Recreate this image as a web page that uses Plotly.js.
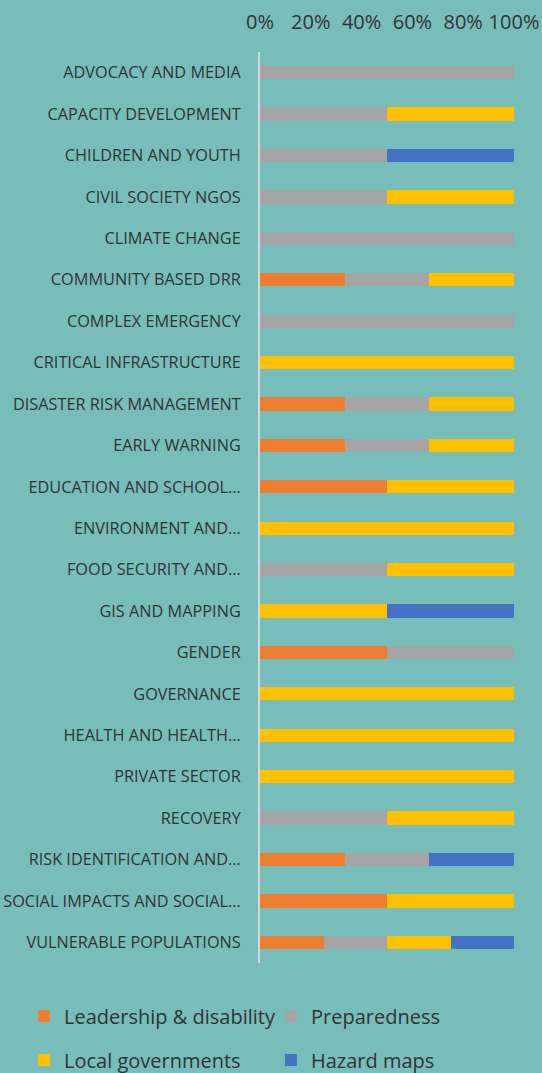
<!DOCTYPE html>
<html><head><meta charset="utf-8">
<script src="https://cdn.plot.ly/plotly-3.0.1.min.js"></script>
<style>html,body{margin:0;padding:0;background:#77bdba;}#chart{width:542px;height:1073px;}</style>
</head><body><div id="chart"></div>
<script>
const categories = [
  "ADVOCACY AND MEDIA","CAPACITY DEVELOPMENT","CHILDREN AND YOUTH","CIVIL SOCIETY NGOS",
  "CLIMATE CHANGE","COMMUNITY BASED DRR","COMPLEX EMERGENCY","CRITICAL INFRASTRUCTURE",
  "DISASTER RISK MANAGEMENT","EARLY WARNING","EDUCATION AND SCHOOL…","ENVIRONMENT AND…",
  "FOOD SECURITY AND…","GIS AND MAPPING","GENDER","GOVERNANCE","HEALTH AND HEALTH…",
  "PRIVATE SECTOR","RECOVERY","RISK IDENTIFICATION AND…","SOCIAL IMPACTS AND SOCIAL…",
  "VULNERABLE POPULATIONS"
];
const leadership   = [0,0,0,0,0,1,0,0,1,1,1,0,0,0,1,0,0,0,0,1,1,1];
const preparedness = [1,1,1,1,1,1,1,0,1,1,0,0,1,0,1,0,0,0,1,1,0,1];
const localGov     = [0,1,0,1,0,1,0,1,1,1,1,1,1,1,0,1,1,1,1,0,1,1];
const hazardMaps   = [0,0,1,0,0,0,0,0,0,0,0,0,0,1,0,0,0,0,0,1,0,1];
const seriesNames  = ["Leadership & disability","Preparedness","Local governments","Hazard maps"];
const seriesColors = ["#ed7d31","#a5a5a5","#ffc000","#4472c4"];
const tickVals = [0,20,40,60,80,100];
const tickText = ["0%","20%","40%","60%","80%","100%"];

const FONT = "'Open Sans', Lato, sans-serif";
const values = [leadership, preparedness, localGov, hazardMaps];
const legendIds = ["legend","legend2","legend3","legend4"];
const traces = values.map((v,i)=>({
  type:"bar", orientation:"h", y:categories, x:v, name:seriesNames[i],
  marker:{color:seriesColors[i], line:{width:0}},
  legend: legendIds[i],
  hoverinfo:"skip"
}));

function leg(x, y){
  return {orientation:"v", xref:"container", yref:"container", xanchor:"left", yanchor:"middle",
    x:x/542, y:(1073-y)/1073, borderwidth:0,
    font:{family:FONT, size:20, color:"#333333"}, bgcolor:"rgba(0,0,0,0)", itemclick:false};
}

const layout = {
  width:542, height:1073,
  paper_bgcolor:"#77bdba", plot_bgcolor:"#77bdba",
  margin:{l:260, r:28, t:52, b:110, autoexpand:false},
  barmode:"stack", barnorm:"percent", bargap:0.68,
  font:{family:FONT, color:"#333333"},
  xaxis:{side:"top", range:[0,100], tickvals:tickVals, ticktext:tickText, showgrid:false, zeroline:false,
    showline:false, ticks:"", tickfont:{size:20, color:"#333333"}, ticklabelstandoff:18, fixedrange:true,
    automargin:false},
  yaxis:{autorange:"reversed", showline:true, linecolor:"#d9d9d9", linewidth:2, ticks:"", showgrid:false,
    zeroline:false, tickfont:{size:16.3, color:"#333333"}, ticklabelstandoff:14, fixedrange:true,
    automargin:false},
  legend: leg(24, 1016),
  legend2: leg(271, 1016),
  legend3: leg(24, 1060),
  legend4: leg(271, 1060),
  showlegend:true
};
Plotly.newPlot("chart", traces, layout, {displayModeBar:false, staticPlot:true});
</script></body></html>
